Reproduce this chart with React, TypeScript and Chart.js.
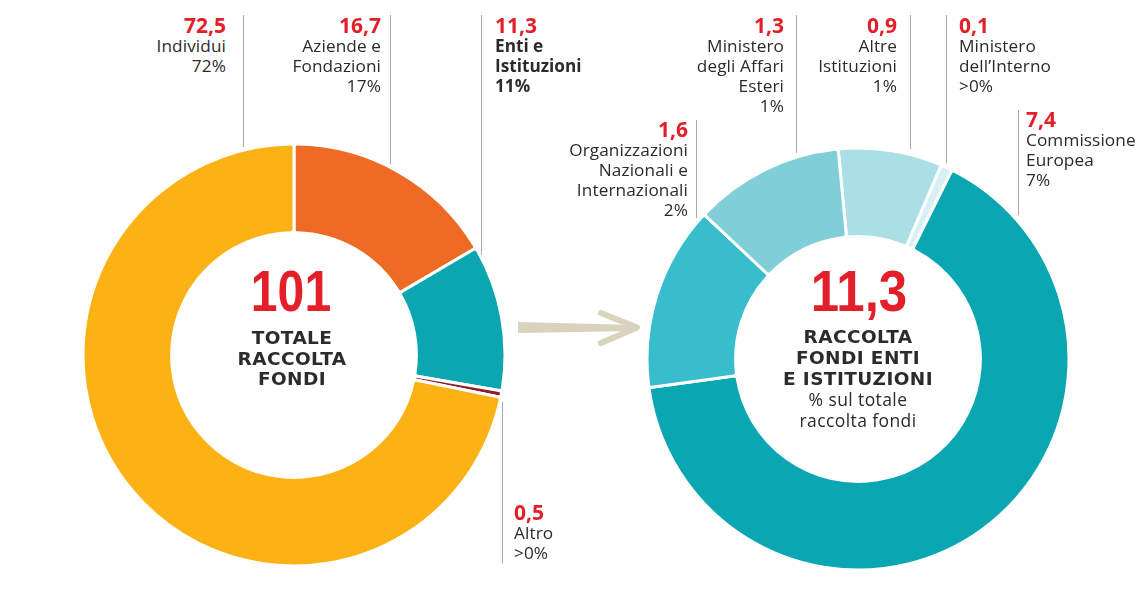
import React, { useEffect, useRef } from "react";
import { Chart, registerables } from "chart.js";

Chart.register(...registerables);

// ---- data ----
const leftCategories = ["Aziende e Fondazioni", "Enti e Istituzioni", "Altro", "Individui"];
const leftValues = [16.7, 11.3, 0.5, 72.5];
const leftPercents = ["17%", "11%", ">0%", "72%"];
const leftLabelLines = [["Aziende e", "Fondazioni"], ["Enti e", "Istituzioni"], ["Altro"], ["Individui"]];
const leftTotal = "101";
const leftCenterLines = ["TOTALE", "RACCOLTA", "FONDI"];

const rightCategories = [
  "Altre Istituzioni",
  "Ministero dell'Interno",
  "Commissione Europea",
  "Organizzazioni Nazionali e Internazionali",
  "Ministero degli Affari Esteri",
];
const rightValues = [0.9, 0.1, 7.4, 1.6, 1.3];
const rightPercents = ["1%", ">0%", "7%", "2%", "1%"];
const rightLabelLines = [
  ["Altre", "Istituzioni"],
  ["Ministero", "dell\u2019Interno"],
  ["Commissione", "Europea"],
  ["Organizzazioni", "Nazionali e", "Internazionali"],
  ["Ministero", "degli Affari", "Esteri"],
];
const rightTotal = "11,3";
const rightCenterBold = ["RACCOLTA", "FONDI ENTI", "E ISTITUZIONI"];
const rightCenterNormal = ["% sul totale", "raccolta fondi"];

// ---- styles ----
const leftColors = ["#EF6A25", "#0CA6B1", "#8E1C2C", "#FCB215"];
const rightColors = ["#AADFE5", "#D8F0F3", "#0AA6B1", "#37BDCB", "#80CFD8"];
const RED = "#E3202A";
const TEXT = "#2b2b2b";
const LINE = "#a8a8a8";
const R = 211;

const fmt = (v: number) => v.toFixed(1).replace(".", ",");

type DProps = { values: number[]; colors: string[]; labels: string[]; rotation: number; cx: number; cy: number };

function Donut({ values, colors, labels, rotation, cx, cy }: DProps) {
  const ref = useRef<HTMLCanvasElement>(null);
  useEffect(() => {
    const chart = new Chart(ref.current as HTMLCanvasElement, {
      type: "doughnut",
      data: {
        labels,
        datasets: [
          {
            data: values,
            backgroundColor: colors,
            borderColor: "#ffffff",
            borderWidth: 3,
            borderRadius: 3,
          },
        ],
      },
      options: {
        responsive: false,
        animation: false,
        rotation,
        radius: R,
        cutout: "58%",
        layout: { padding: 0 },
        plugins: { legend: { display: false }, tooltip: { enabled: false } },
      } as any,
    });
    return () => chart.destroy();
  }, []);
  const size = 2 * R + 6;
  return (
    <canvas
      ref={ref}
      width={size}
      height={size}
      style={{ position: "absolute", left: cx - size / 2, top: cy - size / 2, width: size, height: size }}
    />
  );
}

type LProps = { x: number; y: number; align: "left" | "right"; value: number; lines: string[]; pct: string; bold?: boolean };

function Label({ x, y, align, value, lines, pct, bold }: LProps) {
  const w = 300;
  return (
    <div
      style={{
        position: "absolute",
        top: y,
        left: align === "right" ? x - w : x,
        width: w,
        textAlign: align,
        color: TEXT,
        fontWeight: bold ? 700 : 400,
        fontSize: 17.2,
        lineHeight: "20px",
        letterSpacing: bold ? 0 : 0.1,
      }}
    >
      <div style={{ color: RED, fontWeight: 700, fontSize: 21, lineHeight: "22px", letterSpacing: 0 }}>{fmt(value)}</div>
      {lines.map((l, i) => (
        <div key={i}>{l}</div>
      ))}
      <div>{pct}</div>
    </div>
  );
}

function VLine({ x, y1, y2 }: { x: number; y1: number; y2: number }) {
  return <div style={{ position: "absolute", left: x, top: y1, width: 1, height: y2 - y1, background: LINE }} />;
}

const bigNum: React.CSSProperties = {
  color: RED,
  fontFamily: "'Liberation Sans', sans-serif",
  fontWeight: 700,
  fontSize: 58,
  lineHeight: "58px",
  transformOrigin: "50% 50%",
};

export default function App() {
  const L = { cx: 294, cy: 355 };
  const Rc = { cx: 858, cy: 359 };
  return (
    <div
      style={{
        position: "absolute",
        left: 0,
        top: 0,
        width: 1137,
        height: 593,
        background: "#ffffff",
        overflow: "hidden",
        fontFamily: "'Open Sans', sans-serif",
      }}
    >
      <Donut values={leftValues} colors={leftColors} labels={leftCategories} rotation={0} cx={L.cx} cy={L.cy} />
      <Donut values={rightValues} colors={rightColors} labels={rightCategories} rotation={-5.4} cx={Rc.cx} cy={Rc.cy} />

      {/* leader lines */}
      <VLine x={243} y1={15} y2={147} />
      <VLine x={390} y1={15} y2={164} />
      <VLine x={481} y1={15} y2={255} />
      <VLine x={502} y1={402} y2={563} />
      <VLine x={696} y1={120} y2={218} />
      <VLine x={796} y1={15} y2={153} />
      <VLine x={910} y1={15} y2={149} />
      <VLine x={946} y1={15} y2={163} />
      <VLine x={1018} y1={110} y2={215} />

      {/* left labels */}
      <Label x={226} y={14} align="right" value={leftValues[3]} lines={leftLabelLines[3]} pct={leftPercents[3]} />
      <Label x={381} y={14} align="right" value={leftValues[0]} lines={leftLabelLines[0]} pct={leftPercents[0]} />
      <Label x={495} y={14} align="left" value={leftValues[1]} lines={leftLabelLines[1]} pct={leftPercents[1]} bold />
      <Label x={514} y={501} align="left" value={leftValues[2]} lines={leftLabelLines[2]} pct={leftPercents[2]} />

      {/* right labels */}
      <Label x={784} y={14} align="right" value={rightValues[4]} lines={rightLabelLines[4]} pct={rightPercents[4]} />
      <Label x={897} y={14} align="right" value={rightValues[0]} lines={rightLabelLines[0]} pct={rightPercents[0]} />
      <Label x={959} y={14} align="left" value={rightValues[1]} lines={rightLabelLines[1]} pct={rightPercents[1]} />
      <Label x={1026} y={108} align="left" value={rightValues[2]} lines={rightLabelLines[2]} pct={rightPercents[2]} />
      <Label x={688} y={118} align="right" value={rightValues[3]} lines={rightLabelLines[3]} pct={rightPercents[3]} />

      {/* left center */}
      <div style={{ position: "absolute", left: 291 - 130, width: 260, top: 262, textAlign: "center" }}>
        <div style={{ ...bigNum, transform: "scaleX(0.83)" }}>{leftTotal}</div>
      </div>
      <div
        style={{
          position: "absolute",
          left: 292 - 130,
          width: 260,
          top: 328,
          textAlign: "center",
          fontFamily: "'DejaVu Sans', sans-serif",
          fontWeight: 700,
          fontSize: 18.5,
          lineHeight: "20.5px",
          letterSpacing: 0.4,
          color: TEXT,
        }}
      >
        {leftCenterLines.map((l, i) => (
          <div key={i}>{l}</div>
        ))}
      </div>

      {/* right center */}
      <div style={{ position: "absolute", left: 859 - 130, width: 260, top: 262, textAlign: "center" }}>
        <div style={{ ...bigNum, transform: "scaleX(0.88)" }}>{rightTotal}</div>
      </div>
      <div
        style={{
          position: "absolute",
          left: 858 - 130,
          width: 260,
          top: 326,
          textAlign: "center",
          color: TEXT,
        }}
      >
        {rightCenterBold.map((l, i) => (
          <div
            key={i}
            style={{ fontFamily: "'DejaVu Sans', sans-serif", fontWeight: 700, fontSize: 18.5, lineHeight: "21px", letterSpacing: 0.4 }}
          >
            {l}
          </div>
        ))}
        {rightCenterNormal.map((l, i) => (
          <div key={"n" + i} style={{ fontSize: 17.5, lineHeight: "21px", letterSpacing: 0.4 }}>
            {l}
          </div>
        ))}
      </div>

      {/* arrow */}
      <svg width={1137} height={593} style={{ position: "absolute", left: 0, top: 0, pointerEvents: "none" }}>
        <polygon points="518,322 634,325 634,331 518,333" fill="#D8D2BE" />
        <polyline
          points="601,313 637,327.5 601,343"
          fill="none"
          stroke="#D8D2BE"
          strokeWidth={6}
          strokeLinecap="round"
          strokeLinejoin="round"
        />
      </svg>
    </div>
  );
}
